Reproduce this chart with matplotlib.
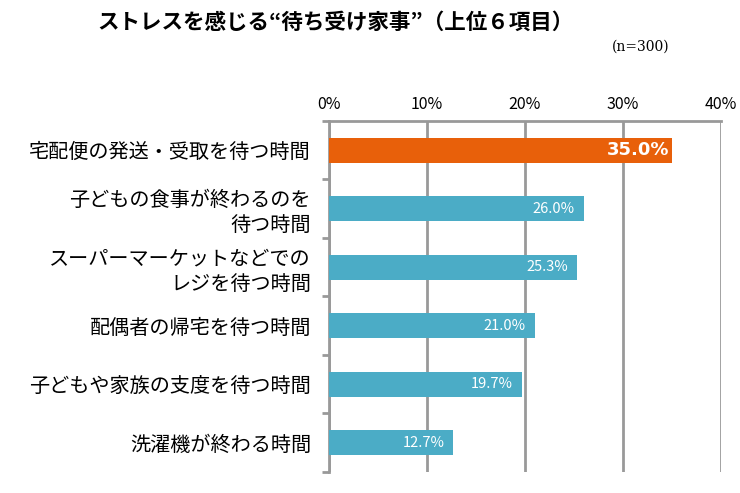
import matplotlib.pyplot as plt
import numpy as np

plt.rcParams['font.family'] = ['Noto Sans CJK JP', 'DejaVu Sans']

categories = ["宅配便の発送・受取を待つ時間",
              "子どもの食事が終わるのを\n待つ時間",
              "スーパーマーケットなどでの\nレジを待つ時間",
              "配偶者の帰宅を待つ時間",
              "子どもや家族の支度を待つ時間",
              "洗濯機が終わる時間"]
values = [35.0, 26.0, 25.3, 21.0, 19.7, 12.7]
colors = ["#E8600A"] + ["#4BACC6"] * 5
xticks = [0, 10, 20, 30, 40]

fig = plt.figure(figsize=(7.4, 4.93), dpi=100)
ax = fig.add_axes([0.4446, 0.0426, 0.5297, 0.712])

y = np.arange(len(categories))
ax.barh(y, values, height=0.43, color=colors, zorder=3)
ax.set_ylim(len(categories) - 0.5, -0.5)
ax.set_xlim(0, 40)

# value labels inside bars
for i, v in enumerate(values):
    if i == 0:
        ax.text(v - 0.3, i, f"{v:.1f}%", color="white", ha="right", va="center",
                fontsize=13, fontweight="bold", family="DejaVu Sans", zorder=4)
    else:
        ax.text(v - 0.9, i, f"{v:.1f}%", color="white", ha="right", va="center",
                fontsize=10.5, zorder=4)

ax.xaxis.tick_top()
ax.set_xticks(xticks)
ax.set_xticklabels([f"{t}%" for t in xticks], fontsize=11.5)
ax.tick_params(axis="x", length=0, pad=6)
ax.grid(axis="x", color="#999999", linewidth=2, zorder=1)

ax.set_yticks(y)
ax.set_yticklabels(categories, fontsize=14.5, linespacing=1.25)
ax.set_yticks(np.arange(len(categories) + 1) - 0.5, minor=True)
ax.tick_params(axis="y", which="major", length=0, pad=13)
ax.tick_params(axis="y", which="minor", length=5, width=2, color="#999999")

for s in ["right", "bottom"]:
    ax.spines[s].set_visible(False)
for s in ["top", "left"]:
    ax.spines[s].set_color("#999999")
    ax.spines[s].set_linewidth(2)

fig.text(0.453, 0.955, "ストレスを感じる“待ち受け家事”（上位６項目）", ha="center", va="center",
         fontsize=15.5, fontweight="bold")
fig.text(0.905, 0.905, "(n=300)", ha="right", va="center", fontsize=10, family="DejaVu Serif")

fig.savefig("out.png", dpi=100)
